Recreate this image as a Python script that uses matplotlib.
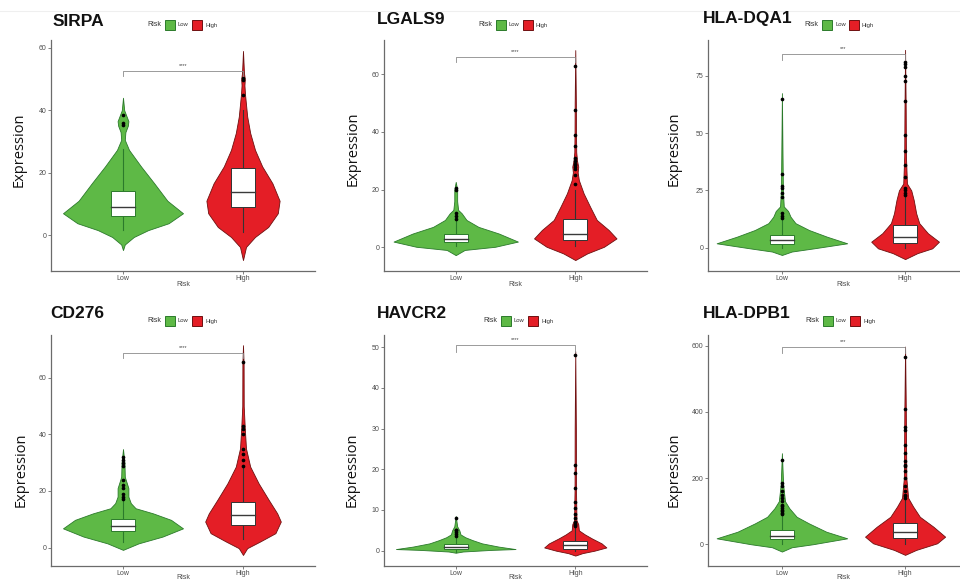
import numpy as np
import matplotlib.pyplot as plt
from matplotlib.patches import Rectangle
from matplotlib.lines import Line2D

W, H = 960, 581

GROUPS = ["Low", "High"]

# violin outlines: y values and relative density (half width)
SIRPA_LOW_Y = [-4.8, -3, -0.6, 1.6, 3.8, 7, 11, 16.6, 22, 27.3, 30.5, 33, 35, 36.5, 38, 40, 44]
SIRPA_LOW_D = [0, 0.03, 0.18, 0.42, 0.76, 1.0, 0.74, 0.52, 0.3, 0.1, 0.03, 0.04, 0.08, 0.09, 0.06, 0.02, 0]
SIRPA_HIGH_Y = [-8, -3.8, -0.6, 2.6, 7, 11, 16.6, 22, 27.3, 32.7, 38, 45, 48, 50, 52, 59]
SIRPA_HIGH_D = [0, 0.05, 0.2, 0.42, 0.58, 0.61, 0.49, 0.32, 0.2, 0.12, 0.07, 0.034, 0.024, 0.03, 0.016, 0]
# lower whisker, q1, median, q3, upper whisker
SIRPA_BOX_LOW = [1.6, 6, 9, 14, 27.5]
SIRPA_BOX_HIGH = [1, 9.1, 13.9, 21.4, 40]
SIRPA_OUT_LOW = [35.2, 35.8, 38.6]
SIRPA_OUT_HIGH = [44.9, 49.7, 50.4]

LGALS9_LOW_Y = [-2.7, -0.9, 0.2, 2, 4.8, 7.1, 9.5, 11.8, 13, 16, 20, 22.7]
LGALS9_LOW_D = [0, 0.15, 0.66, 1.04, 0.72, 0.38, 0.18, 0.1, 0.04, 0.024, 0.024, 0]
LGALS9_HIGH_Y = [-4.4, -2.1, 0.2, 3.1, 6, 9.5, 14, 18.7, 23.3, 26, 28, 30, 33, 40, 50, 68.4]
LGALS9_HIGH_D = [0, 0.2, 0.48, 0.69, 0.56, 0.36, 0.25, 0.14, 0.06, 0.04, 0.05, 0.03, 0.016, 0.012, 0.01, 0]
LGALS9_BOX_LOW = [0.3, 1.9, 2.9, 4.8, 9.5]
LGALS9_BOX_HIGH = [0.5, 2.5, 4.5, 9.7, 20]
LGALS9_OUT_LOW = [10, 11, 12, 20, 20.5]
LGALS9_OUT_HIGH = [22, 25, 27, 28, 28.5, 29, 30, 31, 35, 39, 47.5, 63]

DQA1_LOW_Y = [-3.2, -1.7, -0.3, 1.9, 4.8, 7.7, 10.7, 13.5, 16, 18, 25, 40, 67.5]
DQA1_LOW_D = [0, 0.16, 0.52, 1.06, 0.73, 0.44, 0.22, 0.14, 0.1, 0.03, 0.016, 0.01, 0]
DQA1_HIGH_Y = [-5, -2.4, -0.3, 2.6, 6.3, 10.7, 15, 20.8, 25, 28, 40, 60, 86.4]
DQA1_HIGH_D = [0, 0.2, 0.44, 0.55, 0.37, 0.23, 0.18, 0.14, 0.1, 0.03, 0.014, 0.01, 0]
DQA1_BOX_LOW = [0, 1.6, 3.4, 5.7, 12]
DQA1_BOX_HIGH = [0, 2, 4.8, 9.9, 22]
DQA1_OUT_LOW = [13, 14, 15, 22, 24, 26, 27, 32, 65]
DQA1_OUT_HIGH = [23, 24, 25, 26, 31, 36, 42, 49, 64, 73, 75, 79, 80, 81]

CD276_LOW_Y = [-0.8, 1.5, 3.9, 6.8, 9.8, 12.1, 13.9, 15.7, 18, 21, 23, 25, 30, 34.8]
CD276_LOW_D = [0, 0.26, 0.66, 1.0, 0.8, 0.5, 0.21, 0.13, 0.09, 0.09, 0.06, 0.03, 0.024, 0]
CD276_HIGH_Y = [-2.6, -0.2, 2.1, 5.1, 9.2, 12.1, 16.8, 22.7, 28.6, 35, 42, 50, 65, 71.5]
CD276_HIGH_D = [0, 0.07, 0.28, 0.54, 0.63, 0.57, 0.43, 0.26, 0.12, 0.05, 0.03, 0.012, 0.01, 0]
CD276_BOX_LOW = [2, 5.9, 7.8, 10.0, 16.5]
CD276_BOX_HIGH = [3, 8, 11.5, 16.2, 28]
CD276_OUT_LOW = [17, 18, 19, 21, 22, 24, 29, 30, 31, 32]
CD276_OUT_HIGH = [29, 31, 33, 35, 40, 42, 43, 65.5]

HAVCR2_LOW_Y = [-0.5, -0.2, 0.2, 0.4, 1, 1.8, 2.6, 3.3, 4, 5, 6, 8.5]
HAVCR2_LOW_D = [0, 0.12, 0.6, 1.0, 0.72, 0.44, 0.28, 0.16, 0.08, 0.06, 0.024, 0]
HAVCR2_HIGH_Y = [-1.2, -0.6, 0, 0.8, 1.8, 3, 4, 5, 6.5, 7.5, 15, 30, 49]
HAVCR2_HIGH_D = [0, 0.12, 0.32, 0.52, 0.44, 0.28, 0.16, 0.06, 0.05, 0.02, 0.012, 0.01, 0]
HAVCR2_BOX_LOW = [-0.2, 0.4, 1.0, 1.6, 3.3]
HAVCR2_BOX_HIGH = [0, 0.5, 1.4, 2.5, 5.5]
HAVCR2_OUT_LOW = [3.5, 4, 4.5, 5, 5.2, 8]
HAVCR2_OUT_HIGH = [6, 6.3, 6.6, 7, 8, 9, 10.5, 12, 15.5, 19, 21, 48]

DPB1_LOW_Y = [-22, -9, 0, 18, 38, 63, 83, 109, 130, 180, 275]
DPB1_LOW_D = [0, 0.16, 0.5, 1.06, 0.72, 0.44, 0.24, 0.12, 0.05, 0.02, 0]
DPB1_HIGH_Y = [-32, -17, 3, 23, 53, 83, 114, 140, 200, 400, 597]
DPB1_HIGH_D = [0, 0.18, 0.52, 0.65, 0.46, 0.24, 0.13, 0.05, 0.02, 0.012, 0]
DPB1_BOX_LOW = [0, 15, 26, 43, 85]
DPB1_BOX_HIGH = [0, 18, 36, 65, 135]
DPB1_OUT_LOW = [90, 95, 100, 105, 110, 115, 120, 130, 140, 150, 160, 175, 185, 255]
DPB1_OUT_HIGH = [140, 145, 150, 160, 175, 200, 220, 235, 240, 250, 275, 300, 345, 355, 410, 565]

GENES = ["SIRPA", "LGALS9", "HLA-DQA1", "CD276", "HAVCR2", "HLA-DPB1"]
SIGNIF = ["****", "****", "***", "****", "****", "***"]
BRACKETS = [[51.0, 52.6], [64.3, 66.1], [82, 84.7], [66.8, 68.8], [48.9, 50.5], [577, 595]]
YTICKS = [[0, 20, 40, 60], [0, 20, 40, 60], [0, 25, 50, 75],
          [0, 20, 40, 60], [0, 10, 20, 30, 40, 50], [0, 200, 400, 600]]

panels_data = [
    (SIRPA_LOW_Y, SIRPA_LOW_D, SIRPA_HIGH_Y, SIRPA_HIGH_D, SIRPA_BOX_LOW, SIRPA_BOX_HIGH, SIRPA_OUT_LOW, SIRPA_OUT_HIGH),
    (LGALS9_LOW_Y, LGALS9_LOW_D, LGALS9_HIGH_Y, LGALS9_HIGH_D, LGALS9_BOX_LOW, LGALS9_BOX_HIGH, LGALS9_OUT_LOW, LGALS9_OUT_HIGH),
    (DQA1_LOW_Y, DQA1_LOW_D, DQA1_HIGH_Y, DQA1_HIGH_D, DQA1_BOX_LOW, DQA1_BOX_HIGH, DQA1_OUT_LOW, DQA1_OUT_HIGH),
    (CD276_LOW_Y, CD276_LOW_D, CD276_HIGH_Y, CD276_HIGH_D, CD276_BOX_LOW, CD276_BOX_HIGH, CD276_OUT_LOW, CD276_OUT_HIGH),
    (HAVCR2_LOW_Y, HAVCR2_LOW_D, HAVCR2_HIGH_Y, HAVCR2_HIGH_D, HAVCR2_BOX_LOW, HAVCR2_BOX_HIGH, HAVCR2_OUT_LOW, HAVCR2_OUT_HIGH),
    (DPB1_LOW_Y, DPB1_LOW_D, DPB1_HIGH_Y, DPB1_HIGH_D, DPB1_BOX_LOW, DPB1_BOX_HIGH, DPB1_OUT_LOW, DPB1_OUT_HIGH),
]

# layout in pixels: axes left, top, width, height; ylim; title pos; legend pos; ylabel pos
AX_PX = [(51, 40, 264, 231), (384, 40, 263, 231), (708, 40, 271, 231),
         (51, 335, 264, 231), (384, 335, 263, 231), (708, 335, 271, 231)]
YLIMS = [(-11.5, 62.5), (-8.2, 71.9), (-10.2, 90.7), (-6.5, 75.1), (-3.76, 53.0), (-65.6, 632)]
TITLE_PX = [(53, 22), (377, 20), (703, 19), (50, 314), (377, 314), (703, 314)]
LEGEND_PX = [(147, 25), (478, 25), (804, 25), (147, 321), (483, 321), (805, 321)]
YLAB_PX = [(19, 150), (353, 149), (674, 149), (21, 470), (352, 470), (674, 470)]
XLAB_DROP = [10.5, 10.5, 10.5, 8.0, 8.0, 8.0]

FILL = {"Low": "#5eb946", "High": "#e41e26"}
EDGE = {"Low": "#2b7a2b", "High": "#6e1010"}
WHISK = {"Low": "#2b7a2b", "High": "#333333"}
HALF = 0.5
BOX_HALF = 0.1
AXCOL = "#6b6b6b"


def fx(x):
    return x / W


def fy(y):
    return 1 - y / H


def draw_violin(ax, pos, ys, ds, box, outs, grp):
    ys = np.array(ys)
    hw = np.array(ds) * HALF
    ax.fill_betweenx(ys, pos - hw, pos + hw, facecolor=FILL[grp], edgecolor=EDGE[grp],
                     linewidth=0.6, zorder=2)
    lo, q1, med, q3, hi = box
    ax.plot([pos, pos], [lo, q1], color=WHISK[grp], lw=0.8, zorder=3)
    ax.plot([pos, pos], [q3, hi], color=WHISK[grp], lw=0.8, zorder=3)
    ax.add_patch(Rectangle((pos - BOX_HALF, q1), 2 * BOX_HALF, q3 - q1, facecolor="white",
                           edgecolor=WHISK[grp], linewidth=0.7, zorder=4))
    ax.plot([pos - BOX_HALF, pos + BOX_HALF], [med, med], color="#3a3a3a", lw=1.0, zorder=5)
    ax.scatter([pos] * len(outs), outs, s=7, color="black", zorder=6, linewidths=0)


def draw_legend(fig, x0, y0):
    fig.text(fx(x0), fy(y0), "Risk", fontsize=5, color="#333333", va="center", ha="left",
             family="Liberation Sans")
    for dx, tdx, grp in [(18, 31, "Low"), (45, 58, "High")]:
        fig.add_artist(Rectangle((fx(x0 + dx), fy(y0 + 4.5)), 9.5 / W, 9.5 / H,
                                 transform=fig.transFigure, facecolor=FILL[grp],
                                 edgecolor=EDGE[grp], linewidth=0.7))
        fig.text(fx(x0 + tdx), fy(y0), grp, fontsize=4.2, color="#333333", va="center",
                 ha="left", family="Liberation Sans")


fig = plt.figure(figsize=(W / 100, H / 100), dpi=100)
fig.add_artist(Line2D([0, 1], [fy(11), fy(11)], transform=fig.transFigure, color="#efefef", lw=0.8))

for i, gene in enumerate(GENES):
    low_y, low_d, high_y, high_d, box_low, box_high, out_low, out_high = panels_data[i]
    l, t, w, h = AX_PX[i]
    ax = fig.add_axes([fx(l), fy(t + h), w / W, h / H])
    draw_violin(ax, 1, low_y, low_d, box_low, out_low, "Low")
    draw_violin(ax, 2, high_y, high_d, box_high, out_high, "High")

    tip, bar = BRACKETS[i]
    ax.plot([1, 1, 2, 2], [tip, bar, bar, tip], color="#8a8a8a", lw=0.6, zorder=7)
    ax.text(1.5, bar + (YLIMS[i][1] - YLIMS[i][0]) * 0.012, SIGNIF[i], ha="center", va="bottom",
            fontsize=4, color="#444444", family="Liberation Sans")

    ax.set_xlim(0.4, 2.6)
    ax.set_ylim(*YLIMS[i])
    ax.set_xticks([1, 2])
    ax.set_xticklabels(GROUPS)
    ax.set_yticks(YTICKS[i])
    for s in ["top", "right"]:
        ax.spines[s].set_visible(False)
    for s in ["left", "bottom"]:
        ax.spines[s].set_color(AXCOL)
        ax.spines[s].set_linewidth(0.9)
    ax.tick_params(length=2, width=0.6, color=AXCOL, labelsize=5, labelcolor="#4d4d4d", pad=1.2)
    for lab in ax.get_xticklabels() + ax.get_yticklabels():
        lab.set_family("Liberation Sans")
    ax.set_xlabel("Risk", fontsize=5, color="#4d4d4d", family="Liberation Sans")
    ax.xaxis.set_label_coords(0.5, -XLAB_DROP[i] / h)

    xl, yl = YLAB_PX[i]
    fig.text(fx(xl), fy(yl), "Expression", rotation=90, ha="center", va="center",
             fontsize=10.5, color="#111111", family="Open Sans")

    tx, ty = TITLE_PX[i]
    fig.text(fx(tx), fy(ty), gene, ha="left", va="center", fontsize=12.5, fontweight="bold",
             color="#111111", family="Liberation Sans")
    draw_legend(fig, *LEGEND_PX[i])

fig.savefig("out.png", dpi=100)
